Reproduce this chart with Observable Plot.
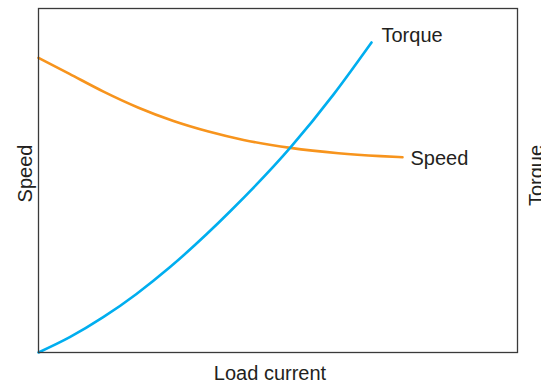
<!DOCTYPE html>
<html>
<head>
<meta charset="utf-8">
<script src="https://cdn.jsdelivr.net/npm/d3@7"></script>
<script src="https://cdn.jsdelivr.net/npm/@observablehq/plot@0.6"></script>
<style>
  html, body { margin: 0; padding: 0; background: #fff; }
  #chart svg { display: block; }
</style>
</head>
<body>
<div id="chart"></div>
<script>
// Load current (arbitrary units 0–100 across the frame)
const speedLoad  = [0, 6.47, 13.57, 20.88, 28.18, 35.49, 42.80, 52.61, 62.63, 71.40, 75.99];
const speedValue = [85.67, 80.99, 75.84, 71.16, 67.30, 64.24, 61.80, 59.48, 57.94, 57.09, 56.77];
const torqueLoad  = [0, 6.53, 13.51, 20.46, 27.41, 35.07, 40.08, 52.61, 61.65, 69.52];
const torqueValue = [0, 4.45, 10.26, 17.03, 24.77, 34.36, 41.13, 59.62, 75.12, 90.12];
const seriesNames = ["Speed", "Torque"];
const xLabel = "Load current";
const yLabelLeft = "Speed";
const yLabelRight = "Torque";

const speed = speedLoad.map((x, i) => ({x, y: speedValue[i], series: seriesNames[0]}));
const torque = torqueLoad.map((x, i) => ({x, y: torqueValue[i], series: seriesNames[1]}));

const font = "'Liberation Sans', Arial, Helvetica, sans-serif";
const textColor = "#231f20";

const chart = Plot.plot({
  width: 541,
  height: 383,
  marginLeft: 38,
  marginRight: 24,
  marginTop: 8,
  marginBottom: 31,
  style: {fontFamily: font, fontSize: "20px", background: "#fff"},
  x: {domain: [0, 100], axis: null},
  y: {domain: [0, 100], axis: null},
  marks: [
    Plot.line(speed, {x: "x", y: "y", stroke: "#f7941d", strokeWidth: 2.6, curve: "monotone-x"}),
    Plot.line(torque, {x: "x", y: "y", stroke: "#00aeef", strokeWidth: 2.6, curve: "monotone-x"}),
    Plot.frame({stroke: "#3a3a3a", strokeWidth: 1.3}),
    Plot.text(torque, Plot.selectLast({x: "x", y: "y", text: "series", textAnchor: "start", dx: 10, dy: -7, fill: textColor, fontSize: 20})),
    Plot.text(speed, Plot.selectLast({x: "x", y: "y", text: "series", textAnchor: "start", dx: 8, dy: 1, fill: textColor, fontSize: 20})),
    Plot.text([xLabel], {frameAnchor: "bottom", text: d => d, textAnchor: "middle", lineAnchor: "bottom", dx: -8, dy: 27, fill: textColor, fontSize: 20}),
    Plot.text([yLabelLeft], {frameAnchor: "left", text: d => d, rotate: -90, textAnchor: "middle", lineAnchor: "bottom", dx: -7, dy: -7, fill: textColor, fontSize: 20}),
    Plot.text([yLabelRight], {frameAnchor: "right", text: d => d, rotate: -90, textAnchor: "middle", lineAnchor: "bottom", dx: 25, dy: -5, fill: textColor, fontSize: 20})
  ]
});
document.getElementById("chart").appendChild(chart);
</script>
</body>
</html>
